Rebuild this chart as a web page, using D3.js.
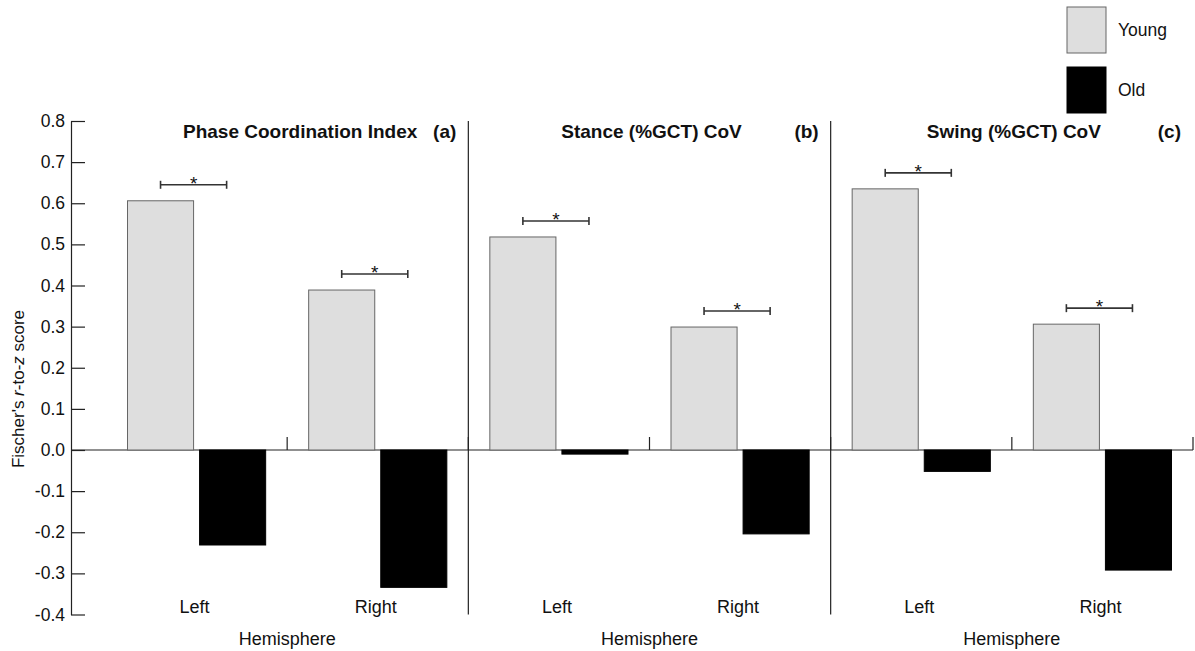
<!DOCTYPE html>
<html>
<head>
<meta charset="utf-8">
<script src="https://cdn.jsdelivr.net/npm/d3@7"></script>
<style>
  body { margin: 0; background: #fff; }
  text { font-family: "Liberation Sans", Arial, sans-serif; fill: #111; }
</style>
</head>
<body>
<div id="chart-area"></div>
<script>
// data
const panels = ["Phase Coordination Index", "Stance (%GCT) CoV", "Swing (%GCT) CoV"];
const panelTags = ["(a)", "(b)", "(c)"];
const hemispheres = ["Left", "Right"];
const groups = ["Young", "Old"];
const youngValues = [[0.606, 0.389], [0.518, 0.299], [0.635, 0.306]];
const oldValues = [[-0.231, -0.334], [-0.010, -0.204], [-0.052, -0.292]];
const significant = [[true, true], [true, true], [true, true]];
const yTicks = [-0.4, -0.3, -0.2, -0.1, 0.0, 0.1, 0.2, 0.3, 0.4, 0.5, 0.6, 0.7, 0.8];
const xTitle = "Hemisphere";

// layout
const width = 1195, height = 651;
const axisX = 71;
const titleDx = [13, 2, 2];
const colors = { Young: "#dedede", Old: "#000" };

const svg = d3.select("#chart-area")
  .append("svg")
  .attr("width", width)
  .attr("height", height);

const y = d3.scaleLinear().domain([-0.4, 0.8]).range([614.5, 121]);
const xPanel = d3.scaleBand().domain(panels).range([106, 1193]);
const xHemi = d3.scaleBand().domain(hemispheres).range([0, xPanel.bandwidth()]);
const xGroup = d3.scaleBand().domain(groups)
  .range([21.5, xHemi.bandwidth() - 21.5]).paddingInner(0.0833);

// y axis
const yAxis = d3.axisLeft(y)
  .tickValues(yTicks)
  .tickFormat(d => d.toFixed(1))
  .tickSizeInner(-14)
  .tickSizeOuter(0)
  .tickPadding(6);

const yAxisGroup = svg.append("g")
  .attr("transform", `translate(${axisX},0)`)
  .call(yAxis);
yAxisGroup.select(".domain").attr("stroke", "#222").attr("stroke-width", 1.2);
yAxisGroup.selectAll(".tick line").attr("stroke", "#222").attr("stroke-width", 1.2);
yAxisGroup.selectAll(".tick text")
  .attr("font-size", "17.5px")
  .attr("font-family", "Liberation Sans, Arial, sans-serif")
  .attr("fill", "#111");

svg.append("text")
  .attr("transform", `translate(24, 389) rotate(-90)`)
  .attr("text-anchor", "middle")
  .attr("font-size", "17px")
  .call(t => {
    t.append("tspan").text("Fischer's ");
    t.append("tspan").attr("font-style", "italic").text("r");
    t.append("tspan").text("-to-");
    t.append("tspan").attr("font-style", "italic").text("z");
    t.append("tspan").text(" score");
  });

// zero line
svg.append("line")
  .attr("x1", axisX).attr("x2", xPanel.range()[1])
  .attr("y1", y(0)).attr("y2", y(0))
  .attr("stroke", "#222").attr("stroke-width", 1.2);

// panels
panels.forEach((p, i) => {
  const px = xPanel(p);
  const pg = svg.append("g").attr("transform", `translate(${px},0)`);
  const panelRight = xPanel.bandwidth();

  // separator between panels
  if (i < panels.length - 1) {
    pg.append("line")
      .attr("x1", panelRight).attr("x2", panelRight)
      .attr("y1", y(0.8)).attr("y2", y(-0.4))
      .attr("stroke", "#222").attr("stroke-width", 1.2);
  }

  // small ticks at hemisphere boundaries
  hemispheres.forEach(h => {
    const tx = xHemi(h) + xHemi.bandwidth();
    pg.append("line")
      .attr("x1", tx).attr("x2", tx)
      .attr("y1", y(0)).attr("y2", y(0) - 13)
      .attr("stroke", "#222").attr("stroke-width", 1.2);
  });

  // title
  pg.append("text")
    .attr("x", xHemi("Right") + titleDx[i])
    .attr("y", 138)
    .attr("text-anchor", "middle")
    .attr("font-size", "19px")
    .attr("font-weight", "bold")
    .text(p);
  pg.append("text")
    .attr("x", panelRight - 12)
    .attr("y", 138)
    .attr("text-anchor", "end")
    .attr("font-size", "19px")
    .attr("font-weight", "bold")
    .text(panelTags[i]);

  hemispheres.forEach((h, j) => {
    const hg = pg.append("g").attr("transform", `translate(${xHemi(h)},0)`);
    const vals = [{ g: "Young", v: youngValues[i][j] }, { g: "Old", v: oldValues[i][j] }];

    hg.selectAll("rect")
      .data(vals)
      .enter()
      .append("rect")
      .attr("x", d => xGroup(d.g))
      .attr("y", d => y(Math.max(0, d.v)))
      .attr("width", xGroup.bandwidth())
      .attr("height", d => Math.abs(y(d.v) - y(0)))
      .attr("fill", d => colors[d.g])
      .attr("stroke", d => d.g === "Young" ? "#666" : "#000")
      .attr("stroke-width", 1);

    if (significant[i][j]) {
      const bx1 = xGroup("Young") + xGroup.bandwidth() / 2;
      const bx2 = bx1 + xGroup.bandwidth();
      const by = y(youngValues[i][j]) - 16;
      hg.append("line")
        .attr("x1", bx1).attr("x2", bx2).attr("y1", by).attr("y2", by)
        .attr("stroke", "#333").attr("stroke-width", 1.6);
      [bx1, bx2].forEach(bx => {
        hg.append("line")
          .attr("x1", bx).attr("x2", bx).attr("y1", by - 4).attr("y2", by + 4)
          .attr("stroke", "#333").attr("stroke-width", 1.6);
      });
      hg.append("text")
        .attr("x", (bx1 + bx2) / 2)
        .attr("y", by + 5)
        .attr("text-anchor", "middle")
        .attr("font-size", "19px")
        .text("*");
    }

    hg.append("text")
      .attr("x", xHemi.bandwidth() / 2 - 2)
      .attr("y", 613)
      .attr("text-anchor", "middle")
      .attr("font-size", "18px")
      .text(h);
  });

  pg.append("text")
    .attr("x", xHemi("Right"))
    .attr("y", 645)
    .attr("text-anchor", "middle")
    .attr("font-size", "18px")
    .text(xTitle);
});

// legend
const legend = svg.append("g");
groups.forEach((gname, k) => {
  legend.append("rect")
    .attr("x", 1067).attr("y", 7 + k * 60)
    .attr("width", 39).attr("height", 46)
    .attr("fill", colors[gname])
    .attr("stroke", gname === "Young" ? "#666" : "#000");
  legend.append("text")
    .attr("x", 1118).attr("y", 30 + k * 60)
    .attr("dy", "0.35em")
    .attr("font-size", "17.5px")
    .text(gname);
});
</script>
</body>
</html>
